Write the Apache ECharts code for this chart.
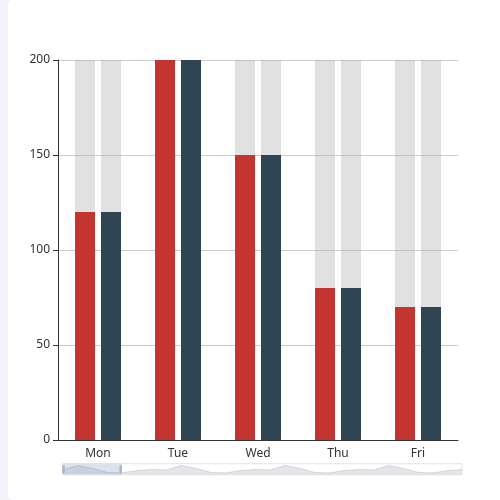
<!DOCTYPE html>
<html>
<head>
<meta charset="utf-8">
<script src="https://cdn.jsdelivr.net/npm/echarts@6/dist/echarts.min.js"></script>
<style>
html,body{margin:0;padding:0;width:500px;height:500px;overflow:hidden;background:#f3f4f8;}
#card{position:absolute;left:8px;top:0;width:510px;height:500px;background:#fff;border-radius:5px;}
#main{position:absolute;left:0;top:0;width:500px;height:500px;}
</style>
</head>
<body>
<div id="card"></div>
<div id="main"></div>
<script>
var categories = ['Mon','Tue','Wed','Thu','Fri','Sat','Sun',
                  'Mon','Tue','Wed','Thu','Fri','Sat','Sun',
                  'Mon','Tue','Wed','Thu','Fri','Sat','Sun',
                  'Mon','Tue','Wed','Thu','Fri','Sat','Sun'];
var seriesA = [120,200,150,80,70,110,130, 120,200,150,80,70,110,130,
               120,200,150,80,70,110,130, 120,200,150,80,70,110,130];
var seriesB = [120,200,150,80,70,110,130, 120,200,150,80,70,110,130,
               120,200,150,80,70,110,130, 120,200,150,80,70,110,130];
var yTicks = [0,50,100,150,200];

var chart = echarts.init(document.getElementById('main'));
var labelFont = {color:'#333', fontSize:12, fontFamily:'"Noto Sans", sans-serif'};
chart.setOption({
  animation:false,
  grid:{left:58, right:42, top:60, bottom:60},
  xAxis:{
    type:'category',
    data:categories,
    axisLine:{lineStyle:{color:'#333'}},
    axisTick:{lineStyle:{color:'#333'}},
    axisLabel:Object.assign({margin:8}, labelFont)
  },
  yAxis:{
    type:'value',
    min:yTicks[0], max:yTicks[yTicks.length-1], interval:50,
    axisLine:{show:true, lineStyle:{color:'#333'}},
    axisTick:{show:true, lineStyle:{color:'#333'}},
    axisLabel:labelFont,
    splitLine:{lineStyle:{color:'#ccc'}}
  },
  dataZoom:[{
    type:'slider',
    xAxisIndex:0,
    startValue:0, endValue:4,
    left:60, right:40, top:463, height:12,
    showDetail:false,
    brushSelect:false,
    moveHandleSize:0,
    backgroundColor:'rgba(0,0,0,0)',
    borderColor:'#e2e2e2',
    fillerColor:'rgba(167,183,204,0.4)',
    handleIcon:'path://M0,0 L2,0 L2,10 L0,10 Z',
    handleSize:'60%',
    handleStyle:{color:'#a7b7cc', borderColor:'#a7b7cc'},
    dataBackground:{lineStyle:{color:'#c8ced6', width:0.8}, areaStyle:{color:'#e4e6e9', opacity:1}},
    selectedDataBackground:{lineStyle:{color:'#b4bfcc', width:0.8}, areaStyle:{color:'#c9d2de', opacity:0.6}}
  }],
  series:[
    {type:'bar', data:seriesA, barWidth:20, barGap:'30%', itemStyle:{color:'#c23531'},
     showBackground:true, backgroundStyle:{color:'rgba(180,180,180,0.4)'}},
    {type:'bar', data:seriesB, barWidth:20, itemStyle:{color:'#2f4554'},
     showBackground:true, backgroundStyle:{color:'rgba(180,180,180,0.4)'}}
  ]
});
</script>
</body>
</html>
